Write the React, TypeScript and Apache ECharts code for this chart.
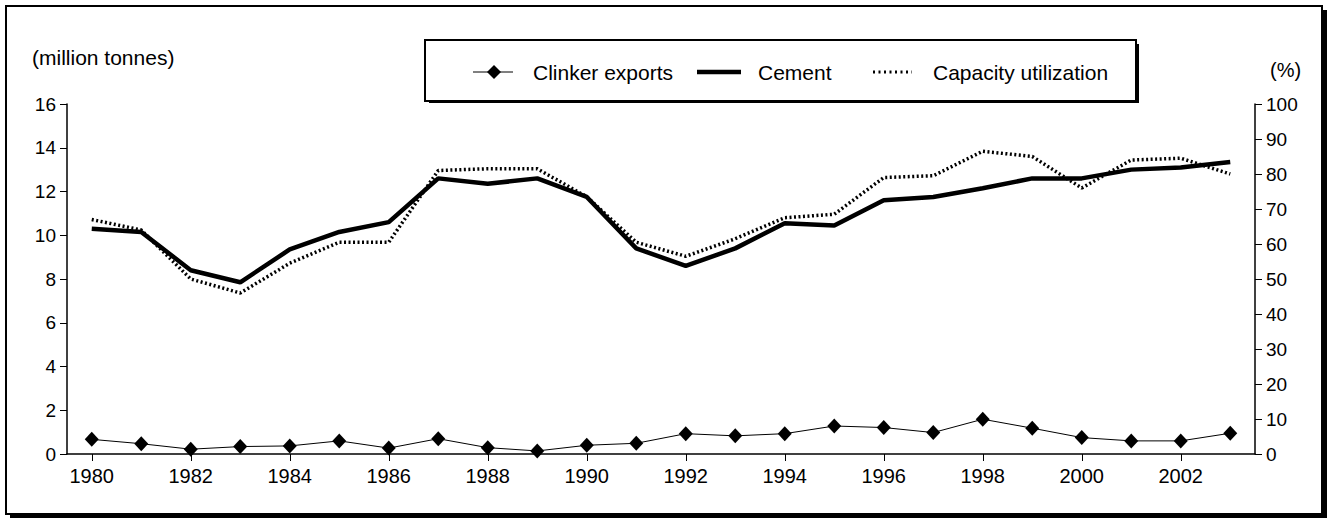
import React, { useEffect, useRef } from "react";
import * as echarts from "echarts";

const years = ["1980","1981","1982","1983","1984","1985","1986","1987","1988","1989","1990","1991","1992","1993","1994","1995","1996","1997","1998","1999","2000","2001","2002","2003"];
const clinkerExports = [0.67, 0.47, 0.22, 0.34, 0.37, 0.6, 0.27, 0.7, 0.29, 0.14, 0.4, 0.49, 0.93, 0.83, 0.93, 1.28, 1.21, 0.98, 1.59, 1.18, 0.75, 0.6, 0.6, 0.95];
const cement = [10.3, 10.15, 8.4, 7.85, 9.35, 10.15, 10.6, 12.6, 12.35, 12.6, 11.75, 9.4, 8.6, 9.4, 10.55, 10.45, 11.6, 11.75, 12.15, 12.6, 12.6, 13.0, 13.1, 13.35];
const capacityUtilization = [67, 64, 50, 46, 54.5, 60.5, 60.5, 81, 81.5, 81.5, 73.5, 60.5, 56.5, 61.5, 67.5, 68.5, 79, 79.5, 86.5, 85, 76, 84, 84.5, 80];
const leftUnit = "(million tonnes)";
const rightUnit = "(%)";
const legendNames = ["Clinker exports", "Cement", "Capacity utilization"];

const FONT = "'Liberation Sans', Arial, sans-serif";

export default function App() {
  const ref = useRef<HTMLDivElement>(null);
  useEffect(() => {
    document.body.style.margin = "0";
    const chart = echarts.init(ref.current!, null, { renderer: "svg" });
    const axisLine = { show: true, lineStyle: { color: "#000", width: 1.5 } };
    const axisTick = { show: true, length: 7, lineStyle: { color: "#000", width: 1 } };
    const labelStyle = { color: "#000", fontFamily: FONT, fontSize: 19 };
    chart.setOption({
      animation: false,
      backgroundColor: "#fff",
      grid: { left: 67, right: 73, top: 104, bottom: 64, containLabel: false },
      xAxis: {
        type: "category",
        data: years,
        boundaryGap: true,
        axisLine,
        axisTick: { ...axisTick, alignWithLabel: true, interval: 1 },
        axisLabel: { ...labelStyle, fontSize: 20, interval: 1, margin: 12 },
        splitLine: { show: false },
      },
      yAxis: [
        {
          type: "value", min: 0, max: 16, interval: 2,
          axisLine, axisTick,
          axisLabel: { ...labelStyle, margin: 11 },
          splitLine: { show: false },
        },
        {
          type: "value", min: 0, max: 100, interval: 10, position: "right",
          axisLine, axisTick,
          axisLabel: { ...labelStyle, margin: 11 },
          splitLine: { show: false },
        },
      ],
      series: [
        {
          name: legendNames[0], type: "line", yAxisIndex: 0, data: clinkerExports,
          symbol: "diamond", symbolSize: [14, 15], showSymbol: true,
          itemStyle: { color: "#000" },
          lineStyle: { color: "#000", width: 1 },
          z: 3,
        },
        {
          name: legendNames[1], type: "line", yAxisIndex: 0, data: cement,
          symbol: "none",
          lineStyle: { color: "#000", width: 4.5 },
          z: 4,
        },
        {
          name: legendNames[2], type: "line", yAxisIndex: 1, data: capacityUtilization,
          symbol: "none",
          lineStyle: { color: "#000", width: 3.5, type: [2, 2.5] },
          z: 2,
        },
      ],
      graphic: [
        // outer frame
        { type: "rect", shape: { x: 6, y: 6, width: 1316, height: 508 }, style: { fill: "none", stroke: "#000", lineWidth: 2 }, silent: true },
        { type: "rect", shape: { x: 1322, y: 10, width: 5, height: 508 }, style: { fill: "#000" }, silent: true },
        { type: "rect", shape: { x: 10, y: 514, width: 1317, height: 4 }, style: { fill: "#000" }, silent: true },
        // legend box
        { type: "rect", shape: { x: 425, y: 40, width: 711, height: 61 }, style: { fill: "#fff", stroke: "#000", lineWidth: 2 }, silent: true, z: 10 },
        { type: "rect", shape: { x: 1136, y: 44, width: 3, height: 59 }, style: { fill: "#000" }, silent: true, z: 10 },
        { type: "rect", shape: { x: 429, y: 101, width: 710, height: 2 }, style: { fill: "#000" }, silent: true, z: 10 },
        // legend items
        { type: "line", shape: { x1: 473, y1: 72, x2: 513, y2: 72 }, style: { stroke: "#000", lineWidth: 1 }, z: 11 },
        { type: "polygon", shape: { points: [[494, 65], [501, 72], [494, 79], [487, 72]] }, style: { fill: "#000" }, z: 11 },
        { type: "text", x: 533, y: 72, style: { text: legendNames[0], fill: "#000", font: `21px ${FONT}`, textVerticalAlign: "middle", verticalAlign: "middle" }, z: 11 },
        { type: "line", shape: { x1: 697, y1: 72, x2: 741, y2: 72 }, style: { stroke: "#000", lineWidth: 4.5 }, z: 11 },
        { type: "text", x: 758, y: 72, style: { text: legendNames[1], fill: "#000", font: `21px ${FONT}`, verticalAlign: "middle" }, z: 11 },
        { type: "line", shape: { x1: 873, y1: 72, x2: 912, y2: 72 }, style: { stroke: "#000", lineWidth: 3, lineDash: [2, 3.5] }, z: 11 },
        { type: "text", x: 933, y: 72, style: { text: legendNames[2], fill: "#000", font: `21px ${FONT}`, verticalAlign: "middle" }, z: 11 },
        // axis units
        { type: "text", x: 32, y: 57, style: { text: leftUnit, fill: "#000", font: `21px ${FONT}`, verticalAlign: "middle" } },
        { type: "text", x: 1270, y: 70, style: { text: rightUnit, fill: "#000", font: `20px ${FONT}`, verticalAlign: "middle" } },
      ],
    });
    return () => chart.dispose();
  }, []);
  return <div ref={ref} style={{ width: 1328, height: 518 }} />;
}
